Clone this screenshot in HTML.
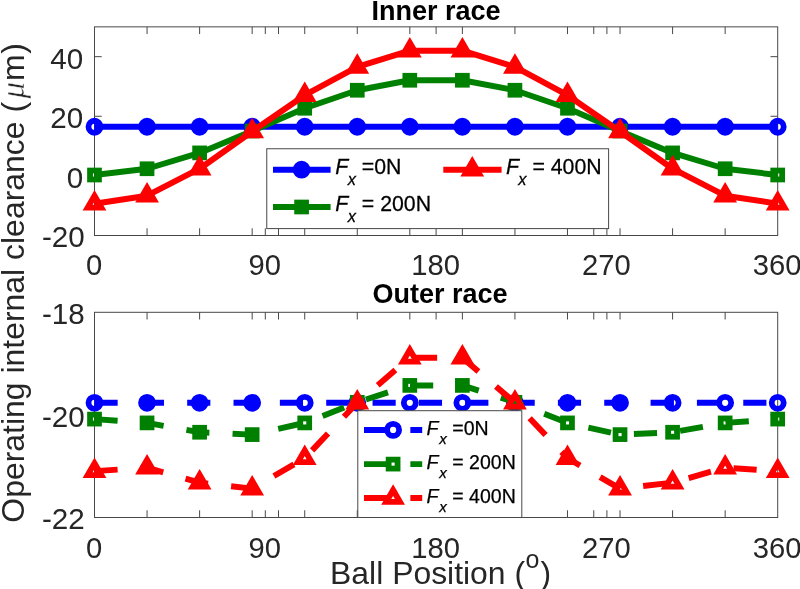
<!DOCTYPE html>
<html><head><meta charset="utf-8"><title>Operating internal clearance</title>
<style>html,body{margin:0;padding:0;background:#fff}svg{display:block}</style></head>
<body>
<svg width="800" height="589" viewBox="0 0 800 589" font-family='"Liberation Sans", sans-serif' fill="#262626">
<rect width="800" height="589" fill="#fff"/>
<rect x="94.5" y="26.85" width="683.2" height="208.65" fill="#fff" stroke="#484848" stroke-width="1"/>
<path d="M147.05 235.5v-7.2M147.05 26.85v7.2M199.61 235.5v-7.2M199.61 26.85v7.2M252.16 235.5v-7.2M252.16 26.85v7.2M265.3 235.5v-7.2M265.3 26.85v7.2M278.5 235.5v-7.2M278.5 26.85v7.2M304.72 235.5v-7.2M304.72 26.85v7.2M357.27 235.5v-7.2M357.27 26.85v7.2M409.82 235.5v-7.2M409.82 26.85v7.2M436.1 235.5v-7.2M436.1 26.85v7.2M462.38 235.5v-7.2M462.38 26.85v7.2M514.93 235.5v-7.2M514.93 26.85v7.2M567.48 235.5v-7.2M567.48 26.85v7.2M593.75 235.5v-7.2M593.75 26.85v7.2M606.9 235.5v-7.2M606.9 26.85v7.2M620.04 235.5v-7.2M620.04 26.85v7.2M672.59 235.5v-7.2M672.59 26.85v7.2M725.15 235.5v-7.2M725.15 26.85v7.2M94.5 56.66h7.2M777.7 56.66h-7.2M94.5 116.27h7.2M777.7 116.27h-7.2M94.5 175.89h7.2M777.7 175.89h-7.2" stroke="#484848" stroke-width="1" fill="none"/>
<text x="83.2" y="68.66" text-anchor="end" font-size="29.6">40</text>
<text x="83.2" y="128.27" text-anchor="end" font-size="29.6">20</text>
<text x="83.2" y="187.89" text-anchor="end" font-size="29.6">0</text>
<text x="94.00" y="274.50" text-anchor="middle" font-size="29.2">0</text>
<text x="264.80" y="274.50" text-anchor="middle" font-size="29.2">90</text>
<text x="435.60" y="274.50" text-anchor="middle" font-size="29.2">180</text>
<text x="606.40" y="274.50" text-anchor="middle" font-size="29.2">270</text>
<text x="777.20" y="274.50" text-anchor="middle" font-size="29.2">360</text>
<text x="84.8" y="246.50" text-anchor="end" font-size="29.6">-20</text>
<polyline points="94.50,126.75 147.05,126.75 199.61,126.75 252.16,126.75 304.72,126.75 357.27,126.75 409.82,126.75 462.38,126.75 514.93,126.75 567.48,126.75 620.04,126.75 672.59,126.75 725.15,126.75 777.70,126.75" fill="none" stroke="#0000ff" stroke-width="5.95" stroke-linejoin="round"/>
<clipPath id="c1"><circle cx="94.50" cy="126.75" r="6.0"/><circle cx="147.05" cy="126.75" r="6.0"/><circle cx="199.61" cy="126.75" r="6.0"/><circle cx="252.16" cy="126.75" r="6.0"/><circle cx="304.72" cy="126.75" r="6.0"/><circle cx="357.27" cy="126.75" r="6.0"/><circle cx="409.82" cy="126.75" r="6.0"/><circle cx="462.38" cy="126.75" r="6.0"/><circle cx="514.93" cy="126.75" r="6.0"/><circle cx="567.48" cy="126.75" r="6.0"/><circle cx="620.04" cy="126.75" r="6.0"/><circle cx="672.59" cy="126.75" r="6.0"/><circle cx="725.15" cy="126.75" r="6.0"/><circle cx="777.70" cy="126.75" r="6.0"/></clipPath>
<polyline points="94.50,126.75 147.05,126.75 199.61,126.75 252.16,126.75 304.72,126.75 357.27,126.75 409.82,126.75 462.38,126.75 514.93,126.75 567.48,126.75 620.04,126.75 672.59,126.75 725.15,126.75 777.70,126.75" fill="none" stroke="#0000ff" stroke-width="7.550000000000001" stroke-linejoin="round" clip-path="url(#c1)"/>
<circle cx="94.50" cy="126.75" r="6.0" fill="none" stroke="#0000ff" stroke-width="5.8"/>
<circle cx="147.05" cy="126.75" r="6.0" fill="none" stroke="#0000ff" stroke-width="5.8"/>
<circle cx="199.61" cy="126.75" r="6.0" fill="none" stroke="#0000ff" stroke-width="5.8"/>
<circle cx="252.16" cy="126.75" r="6.0" fill="none" stroke="#0000ff" stroke-width="5.8"/>
<circle cx="304.72" cy="126.75" r="6.0" fill="none" stroke="#0000ff" stroke-width="5.8"/>
<circle cx="357.27" cy="126.75" r="6.0" fill="none" stroke="#0000ff" stroke-width="5.8"/>
<circle cx="409.82" cy="126.75" r="6.0" fill="none" stroke="#0000ff" stroke-width="5.8"/>
<circle cx="462.38" cy="126.75" r="6.0" fill="none" stroke="#0000ff" stroke-width="5.8"/>
<circle cx="514.93" cy="126.75" r="6.0" fill="none" stroke="#0000ff" stroke-width="5.8"/>
<circle cx="567.48" cy="126.75" r="6.0" fill="none" stroke="#0000ff" stroke-width="5.8"/>
<circle cx="620.04" cy="126.75" r="6.0" fill="none" stroke="#0000ff" stroke-width="5.8"/>
<circle cx="672.59" cy="126.75" r="6.0" fill="none" stroke="#0000ff" stroke-width="5.8"/>
<circle cx="725.15" cy="126.75" r="6.0" fill="none" stroke="#0000ff" stroke-width="5.8"/>
<circle cx="777.70" cy="126.75" r="6.0" fill="none" stroke="#0000ff" stroke-width="5.8"/>
<polyline points="94.50,175.00 147.05,168.75 199.61,152.90 252.16,131.00 304.72,108.25 357.27,90.25 409.82,80.25 462.38,80.25 514.93,90.25 567.48,108.25 620.04,131.00 672.59,152.90 725.15,168.75 777.70,175.00" fill="none" stroke="#008000" stroke-width="5.95" stroke-linejoin="round"/>
<clipPath id="c2"><rect x="90.05" y="170.55" width="8.9" height="8.9"/><rect x="142.60" y="164.30" width="8.9" height="8.9"/><rect x="195.16" y="148.45" width="8.9" height="8.9"/><rect x="247.71" y="126.55" width="8.9" height="8.9"/><rect x="300.27" y="103.80" width="8.9" height="8.9"/><rect x="352.82" y="85.80" width="8.9" height="8.9"/><rect x="405.37" y="75.80" width="8.9" height="8.9"/><rect x="457.93" y="75.80" width="8.9" height="8.9"/><rect x="510.48" y="85.80" width="8.9" height="8.9"/><rect x="563.03" y="103.80" width="8.9" height="8.9"/><rect x="615.59" y="126.55" width="8.9" height="8.9"/><rect x="668.14" y="148.45" width="8.9" height="8.9"/><rect x="720.70" y="164.30" width="8.9" height="8.9"/><rect x="773.25" y="170.55" width="8.9" height="8.9"/></clipPath>
<polyline points="94.50,175.00 147.05,168.75 199.61,152.90 252.16,131.00 304.72,108.25 357.27,90.25 409.82,80.25 462.38,80.25 514.93,90.25 567.48,108.25 620.04,131.00 672.59,152.90 725.15,168.75 777.70,175.00" fill="none" stroke="#008000" stroke-width="7.550000000000001" stroke-linejoin="round" clip-path="url(#c2)"/>
<rect x="90.05" y="170.55" width="8.9" height="8.9" fill="none" stroke="#008000" stroke-width="5.8" stroke-linejoin="miter"/>
<rect x="142.60" y="164.30" width="8.9" height="8.9" fill="none" stroke="#008000" stroke-width="5.8" stroke-linejoin="miter"/>
<rect x="195.16" y="148.45" width="8.9" height="8.9" fill="none" stroke="#008000" stroke-width="5.8" stroke-linejoin="miter"/>
<rect x="247.71" y="126.55" width="8.9" height="8.9" fill="none" stroke="#008000" stroke-width="5.8" stroke-linejoin="miter"/>
<rect x="300.27" y="103.80" width="8.9" height="8.9" fill="none" stroke="#008000" stroke-width="5.8" stroke-linejoin="miter"/>
<rect x="352.82" y="85.80" width="8.9" height="8.9" fill="none" stroke="#008000" stroke-width="5.8" stroke-linejoin="miter"/>
<rect x="405.37" y="75.80" width="8.9" height="8.9" fill="none" stroke="#008000" stroke-width="5.8" stroke-linejoin="miter"/>
<rect x="457.93" y="75.80" width="8.9" height="8.9" fill="none" stroke="#008000" stroke-width="5.8" stroke-linejoin="miter"/>
<rect x="510.48" y="85.80" width="8.9" height="8.9" fill="none" stroke="#008000" stroke-width="5.8" stroke-linejoin="miter"/>
<rect x="563.03" y="103.80" width="8.9" height="8.9" fill="none" stroke="#008000" stroke-width="5.8" stroke-linejoin="miter"/>
<rect x="615.59" y="126.55" width="8.9" height="8.9" fill="none" stroke="#008000" stroke-width="5.8" stroke-linejoin="miter"/>
<rect x="668.14" y="148.45" width="8.9" height="8.9" fill="none" stroke="#008000" stroke-width="5.8" stroke-linejoin="miter"/>
<rect x="720.70" y="164.30" width="8.9" height="8.9" fill="none" stroke="#008000" stroke-width="5.8" stroke-linejoin="miter"/>
<rect x="773.25" y="170.55" width="8.9" height="8.9" fill="none" stroke="#008000" stroke-width="5.8" stroke-linejoin="miter"/>
<polyline points="94.50,203.70 147.05,195.70 199.61,168.70 252.16,131.50 304.72,95.20 357.27,66.95 409.82,50.70 462.38,50.70 514.93,66.95 567.48,95.20 620.04,131.50 672.59,168.70 725.15,195.70 777.70,203.70" fill="none" stroke="#ff0000" stroke-width="5.95" stroke-linejoin="round"/>
<clipPath id="c3"><path d="M94.50 195.77L101.37 207.66L87.63 207.66Z"/><path d="M147.05 187.77L153.92 199.66L140.19 199.66Z"/><path d="M199.61 160.77L206.48 172.66L192.74 172.66Z"/><path d="M252.16 123.57L259.03 135.47L245.29 135.47Z"/><path d="M304.72 87.27L311.58 99.17L297.85 99.17Z"/><path d="M357.27 59.02L364.14 70.92L350.40 70.92Z"/><path d="M409.82 42.77L416.69 54.67L402.96 54.67Z"/><path d="M462.38 42.77L469.24 54.67L455.51 54.67Z"/><path d="M514.93 59.02L521.80 70.92L508.06 70.92Z"/><path d="M567.48 87.27L574.35 99.17L560.62 99.17Z"/><path d="M620.04 123.57L626.91 135.47L613.17 135.47Z"/><path d="M672.59 160.77L679.46 172.66L665.72 172.66Z"/><path d="M725.15 187.77L732.01 199.66L718.28 199.66Z"/><path d="M777.70 195.77L784.57 207.66L770.83 207.66Z"/></clipPath>
<polyline points="94.50,203.70 147.05,195.70 199.61,168.70 252.16,131.50 304.72,95.20 357.27,66.95 409.82,50.70 462.38,50.70 514.93,66.95 567.48,95.20 620.04,131.50 672.59,168.70 725.15,195.70 777.70,203.70" fill="none" stroke="#ff0000" stroke-width="7.550000000000001" stroke-linejoin="round" clip-path="url(#c3)"/>
<path d="M94.50 195.77L101.37 207.66L87.63 207.66Z" fill="none" stroke="#ff0000" stroke-width="5.8" stroke-linejoin="miter" stroke-miterlimit="10"/>
<path d="M147.05 187.77L153.92 199.66L140.19 199.66Z" fill="none" stroke="#ff0000" stroke-width="5.8" stroke-linejoin="miter" stroke-miterlimit="10"/>
<path d="M199.61 160.77L206.48 172.66L192.74 172.66Z" fill="none" stroke="#ff0000" stroke-width="5.8" stroke-linejoin="miter" stroke-miterlimit="10"/>
<path d="M252.16 123.57L259.03 135.47L245.29 135.47Z" fill="none" stroke="#ff0000" stroke-width="5.8" stroke-linejoin="miter" stroke-miterlimit="10"/>
<path d="M304.72 87.27L311.58 99.17L297.85 99.17Z" fill="none" stroke="#ff0000" stroke-width="5.8" stroke-linejoin="miter" stroke-miterlimit="10"/>
<path d="M357.27 59.02L364.14 70.92L350.40 70.92Z" fill="none" stroke="#ff0000" stroke-width="5.8" stroke-linejoin="miter" stroke-miterlimit="10"/>
<path d="M409.82 42.77L416.69 54.67L402.96 54.67Z" fill="none" stroke="#ff0000" stroke-width="5.8" stroke-linejoin="miter" stroke-miterlimit="10"/>
<path d="M462.38 42.77L469.24 54.67L455.51 54.67Z" fill="none" stroke="#ff0000" stroke-width="5.8" stroke-linejoin="miter" stroke-miterlimit="10"/>
<path d="M514.93 59.02L521.80 70.92L508.06 70.92Z" fill="none" stroke="#ff0000" stroke-width="5.8" stroke-linejoin="miter" stroke-miterlimit="10"/>
<path d="M567.48 87.27L574.35 99.17L560.62 99.17Z" fill="none" stroke="#ff0000" stroke-width="5.8" stroke-linejoin="miter" stroke-miterlimit="10"/>
<path d="M620.04 123.57L626.91 135.47L613.17 135.47Z" fill="none" stroke="#ff0000" stroke-width="5.8" stroke-linejoin="miter" stroke-miterlimit="10"/>
<path d="M672.59 160.77L679.46 172.66L665.72 172.66Z" fill="none" stroke="#ff0000" stroke-width="5.8" stroke-linejoin="miter" stroke-miterlimit="10"/>
<path d="M725.15 187.77L732.01 199.66L718.28 199.66Z" fill="none" stroke="#ff0000" stroke-width="5.8" stroke-linejoin="miter" stroke-miterlimit="10"/>
<path d="M777.70 195.77L784.57 207.66L770.83 207.66Z" fill="none" stroke="#ff0000" stroke-width="5.8" stroke-linejoin="miter" stroke-miterlimit="10"/>
<rect x="266.75" y="148.75" width="341.85" height="79.85" fill="#fff" stroke="#484848" stroke-width="1"/>
<path d="M273.0 169.7h57.6" stroke="#0000ff" stroke-width="5.95" fill="none"/>
<circle cx="301.60" cy="169.70" r="6.0" fill="#0000ff" stroke="#0000ff" stroke-width="5.8"/>
<text transform="translate(0 173.70) scale(1 1.045)" font-size="21.3" fill="#000" stroke="#000" stroke-width="0.25"><tspan x="335.3" font-style="italic">F</tspan><tspan x="347.70" font-style="italic" font-size="16.40" dy="10.91">x</tspan><tspan x="361.80" dy="-10.91">=0N</tspan></text>
<path d="M273.0 207.0h57.6" stroke="#008000" stroke-width="5.95" fill="none"/>
<rect x="297.15" y="202.55" width="8.9" height="8.9" fill="none" stroke="#008000" stroke-width="5.8" stroke-linejoin="miter"/>
<text transform="translate(0 211.00) scale(1 1.045)" font-size="21.3" fill="#000" stroke="#000" stroke-width="0.25"><tspan x="335.3" font-style="italic">F</tspan><tspan x="347.70" font-style="italic" font-size="16.40" dy="10.91">x</tspan><tspan x="361.80" dy="-10.91">= 200N</tspan></text>
<path d="M443.3 169.7h58.3" stroke="#ff0000" stroke-width="5.95" fill="none"/>
<path d="M472.25 161.77L479.12 173.66L465.38 173.66Z" fill="none" stroke="#ff0000" stroke-width="5.8" stroke-linejoin="miter" stroke-miterlimit="10"/>
<text transform="translate(0 173.70) scale(1 1.045)" font-size="21.3" fill="#000" stroke="#000" stroke-width="0.25"><tspan x="505.9" font-style="italic">F</tspan><tspan x="518.30" font-style="italic" font-size="16.40" dy="10.91">x</tspan><tspan x="532.40" dy="-10.91">= 400N</tspan></text>
<rect x="94.5" y="312.3" width="683.2" height="205.2" fill="#fff" stroke="#484848" stroke-width="1"/>
<path d="M147.05 517.5v-7.2M147.05 312.3v7.2M199.61 517.5v-7.2M199.61 312.3v7.2M252.16 517.5v-7.2M252.16 312.3v7.2M265.3 517.5v-7.2M265.3 312.3v7.2M278.5 517.5v-7.2M278.5 312.3v7.2M304.72 517.5v-7.2M304.72 312.3v7.2M357.27 517.5v-7.2M357.27 312.3v7.2M409.82 517.5v-7.2M409.82 312.3v7.2M436.1 517.5v-7.2M436.1 312.3v7.2M462.38 517.5v-7.2M462.38 312.3v7.2M514.93 517.5v-7.2M514.93 312.3v7.2M567.48 517.5v-7.2M567.48 312.3v7.2M593.75 517.5v-7.2M593.75 312.3v7.2M606.9 517.5v-7.2M606.9 312.3v7.2M620.04 517.5v-7.2M620.04 312.3v7.2M672.59 517.5v-7.2M672.59 312.3v7.2M725.15 517.5v-7.2M725.15 312.3v7.2M94.5 414.90h7.2M777.7 414.90h-7.2" stroke="#484848" stroke-width="1" fill="none"/>
<text x="84.8" y="426.90" text-anchor="end" font-size="29.6">-20</text>
<text x="94.00" y="557.80" text-anchor="middle" font-size="29.2">0</text>
<text x="264.80" y="557.80" text-anchor="middle" font-size="29.2">90</text>
<text x="435.60" y="557.80" text-anchor="middle" font-size="29.2">180</text>
<text x="606.40" y="557.80" text-anchor="middle" font-size="29.2">270</text>
<text x="777.20" y="557.80" text-anchor="middle" font-size="29.2">360</text>
<text x="84.8" y="324.00" text-anchor="end" font-size="29.6">-18</text>
<text x="84.8" y="528.90" text-anchor="end" font-size="29.6">-22</text>
<polyline points="94.50,402.80 147.05,402.80 199.61,402.80 252.16,402.80 304.72,402.80 357.27,402.80 409.82,402.80 462.38,402.80 514.93,402.80 567.48,402.80 620.04,402.80 672.59,402.80 725.15,402.80 777.70,402.80" fill="none" stroke="#0000ff" stroke-width="5.95" stroke-linejoin="round" stroke-dasharray="23.17 23.17"/>
<clipPath id="c4"><circle cx="94.50" cy="402.80" r="6.0"/><circle cx="147.05" cy="402.80" r="6.0"/><circle cx="199.61" cy="402.80" r="6.0"/><circle cx="252.16" cy="402.80" r="6.0"/><circle cx="304.72" cy="402.80" r="6.0"/><circle cx="357.27" cy="402.80" r="6.0"/><circle cx="409.82" cy="402.80" r="6.0"/><circle cx="462.38" cy="402.80" r="6.0"/><circle cx="514.93" cy="402.80" r="6.0"/><circle cx="567.48" cy="402.80" r="6.0"/><circle cx="620.04" cy="402.80" r="6.0"/><circle cx="672.59" cy="402.80" r="6.0"/><circle cx="725.15" cy="402.80" r="6.0"/><circle cx="777.70" cy="402.80" r="6.0"/></clipPath>
<polyline points="94.50,402.80 147.05,402.80 199.61,402.80 252.16,402.80 304.72,402.80 357.27,402.80 409.82,402.80 462.38,402.80 514.93,402.80 567.48,402.80 620.04,402.80 672.59,402.80 725.15,402.80 777.70,402.80" fill="none" stroke="#0000ff" stroke-width="7.550000000000001" stroke-linejoin="round" stroke-dasharray="23.17 23.17" clip-path="url(#c4)"/>
<circle cx="94.50" cy="402.80" r="6.0" fill="none" stroke="#0000ff" stroke-width="5.8"/>
<circle cx="147.05" cy="402.80" r="6.0" fill="none" stroke="#0000ff" stroke-width="5.8"/>
<circle cx="199.61" cy="402.80" r="6.0" fill="none" stroke="#0000ff" stroke-width="5.8"/>
<circle cx="252.16" cy="402.80" r="6.0" fill="none" stroke="#0000ff" stroke-width="5.8"/>
<circle cx="304.72" cy="402.80" r="6.0" fill="none" stroke="#0000ff" stroke-width="5.8"/>
<circle cx="357.27" cy="402.80" r="6.0" fill="none" stroke="#0000ff" stroke-width="5.8"/>
<circle cx="409.82" cy="402.80" r="6.0" fill="none" stroke="#0000ff" stroke-width="5.8"/>
<circle cx="462.38" cy="402.80" r="6.0" fill="none" stroke="#0000ff" stroke-width="5.8"/>
<circle cx="514.93" cy="402.80" r="6.0" fill="none" stroke="#0000ff" stroke-width="5.8"/>
<circle cx="567.48" cy="402.80" r="6.0" fill="none" stroke="#0000ff" stroke-width="5.8"/>
<circle cx="620.04" cy="402.80" r="6.0" fill="none" stroke="#0000ff" stroke-width="5.8"/>
<circle cx="672.59" cy="402.80" r="6.0" fill="none" stroke="#0000ff" stroke-width="5.8"/>
<circle cx="725.15" cy="402.80" r="6.0" fill="none" stroke="#0000ff" stroke-width="5.8"/>
<circle cx="777.70" cy="402.80" r="6.0" fill="none" stroke="#0000ff" stroke-width="5.8"/>
<polyline points="94.50,419.10 147.05,422.90 199.61,432.25 252.16,434.60 304.72,422.90 357.27,402.30 409.82,385.40 462.38,385.40 514.93,402.30 567.48,422.90 620.04,434.60 672.59,432.25 725.15,422.90 777.70,419.10" fill="none" stroke="#008000" stroke-width="5.95" stroke-linejoin="round" stroke-dasharray="23.17 23.17"/>
<clipPath id="c5"><rect x="90.05" y="414.65" width="8.9" height="8.9"/><rect x="142.60" y="418.45" width="8.9" height="8.9"/><rect x="195.16" y="427.80" width="8.9" height="8.9"/><rect x="247.71" y="430.15" width="8.9" height="8.9"/><rect x="300.27" y="418.45" width="8.9" height="8.9"/><rect x="352.82" y="397.85" width="8.9" height="8.9"/><rect x="405.37" y="380.95" width="8.9" height="8.9"/><rect x="457.93" y="380.95" width="8.9" height="8.9"/><rect x="510.48" y="397.85" width="8.9" height="8.9"/><rect x="563.03" y="418.45" width="8.9" height="8.9"/><rect x="615.59" y="430.15" width="8.9" height="8.9"/><rect x="668.14" y="427.80" width="8.9" height="8.9"/><rect x="720.70" y="418.45" width="8.9" height="8.9"/><rect x="773.25" y="414.65" width="8.9" height="8.9"/></clipPath>
<polyline points="94.50,419.10 147.05,422.90 199.61,432.25 252.16,434.60 304.72,422.90 357.27,402.30 409.82,385.40 462.38,385.40 514.93,402.30 567.48,422.90 620.04,434.60 672.59,432.25 725.15,422.90 777.70,419.10" fill="none" stroke="#008000" stroke-width="7.550000000000001" stroke-linejoin="round" stroke-dasharray="23.17 23.17" clip-path="url(#c5)"/>
<rect x="90.05" y="414.65" width="8.9" height="8.9" fill="none" stroke="#008000" stroke-width="5.8" stroke-linejoin="miter"/>
<rect x="142.60" y="418.45" width="8.9" height="8.9" fill="none" stroke="#008000" stroke-width="5.8" stroke-linejoin="miter"/>
<rect x="195.16" y="427.80" width="8.9" height="8.9" fill="none" stroke="#008000" stroke-width="5.8" stroke-linejoin="miter"/>
<rect x="247.71" y="430.15" width="8.9" height="8.9" fill="none" stroke="#008000" stroke-width="5.8" stroke-linejoin="miter"/>
<rect x="300.27" y="418.45" width="8.9" height="8.9" fill="none" stroke="#008000" stroke-width="5.8" stroke-linejoin="miter"/>
<rect x="352.82" y="397.85" width="8.9" height="8.9" fill="none" stroke="#008000" stroke-width="5.8" stroke-linejoin="miter"/>
<rect x="405.37" y="380.95" width="8.9" height="8.9" fill="none" stroke="#008000" stroke-width="5.8" stroke-linejoin="miter"/>
<rect x="457.93" y="380.95" width="8.9" height="8.9" fill="none" stroke="#008000" stroke-width="5.8" stroke-linejoin="miter"/>
<rect x="510.48" y="397.85" width="8.9" height="8.9" fill="none" stroke="#008000" stroke-width="5.8" stroke-linejoin="miter"/>
<rect x="563.03" y="418.45" width="8.9" height="8.9" fill="none" stroke="#008000" stroke-width="5.8" stroke-linejoin="miter"/>
<rect x="615.59" y="430.15" width="8.9" height="8.9" fill="none" stroke="#008000" stroke-width="5.8" stroke-linejoin="miter"/>
<rect x="668.14" y="427.80" width="8.9" height="8.9" fill="none" stroke="#008000" stroke-width="5.8" stroke-linejoin="miter"/>
<rect x="720.70" y="418.45" width="8.9" height="8.9" fill="none" stroke="#008000" stroke-width="5.8" stroke-linejoin="miter"/>
<rect x="773.25" y="414.65" width="8.9" height="8.9" fill="none" stroke="#008000" stroke-width="5.8" stroke-linejoin="miter"/>
<polyline points="94.50,471.15 147.05,467.65 199.61,482.65 252.16,488.65 304.72,458.20 357.27,402.70 409.82,357.70 462.38,357.70 514.93,402.70 567.48,458.20 620.04,488.65 672.59,482.65 725.15,467.65 777.70,471.15" fill="none" stroke="#ff0000" stroke-width="5.95" stroke-linejoin="round" stroke-dasharray="23.17 23.17"/>
<clipPath id="c6"><path d="M94.50 463.22L101.37 475.11L87.63 475.11Z"/><path d="M147.05 459.72L153.92 471.61L140.19 471.61Z"/><path d="M199.61 474.72L206.48 486.61L192.74 486.61Z"/><path d="M252.16 480.72L259.03 492.61L245.29 492.61Z"/><path d="M304.72 450.27L311.58 462.16L297.85 462.16Z"/><path d="M357.27 394.77L364.14 406.66L350.40 406.66Z"/><path d="M409.82 349.77L416.69 361.66L402.96 361.66Z"/><path d="M462.38 349.77L469.24 361.66L455.51 361.66Z"/><path d="M514.93 394.77L521.80 406.66L508.06 406.66Z"/><path d="M567.48 450.27L574.35 462.16L560.62 462.16Z"/><path d="M620.04 480.72L626.91 492.61L613.17 492.61Z"/><path d="M672.59 474.72L679.46 486.61L665.72 486.61Z"/><path d="M725.15 459.72L732.01 471.61L718.28 471.61Z"/><path d="M777.70 463.22L784.57 475.11L770.83 475.11Z"/></clipPath>
<polyline points="94.50,471.15 147.05,467.65 199.61,482.65 252.16,488.65 304.72,458.20 357.27,402.70 409.82,357.70 462.38,357.70 514.93,402.70 567.48,458.20 620.04,488.65 672.59,482.65 725.15,467.65 777.70,471.15" fill="none" stroke="#ff0000" stroke-width="7.550000000000001" stroke-linejoin="round" stroke-dasharray="23.17 23.17" clip-path="url(#c6)"/>
<path d="M94.50 463.22L101.37 475.11L87.63 475.11Z" fill="none" stroke="#ff0000" stroke-width="5.8" stroke-linejoin="miter" stroke-miterlimit="10"/>
<path d="M147.05 459.72L153.92 471.61L140.19 471.61Z" fill="none" stroke="#ff0000" stroke-width="5.8" stroke-linejoin="miter" stroke-miterlimit="10"/>
<path d="M199.61 474.72L206.48 486.61L192.74 486.61Z" fill="none" stroke="#ff0000" stroke-width="5.8" stroke-linejoin="miter" stroke-miterlimit="10"/>
<path d="M252.16 480.72L259.03 492.61L245.29 492.61Z" fill="none" stroke="#ff0000" stroke-width="5.8" stroke-linejoin="miter" stroke-miterlimit="10"/>
<path d="M304.72 450.27L311.58 462.16L297.85 462.16Z" fill="none" stroke="#ff0000" stroke-width="5.8" stroke-linejoin="miter" stroke-miterlimit="10"/>
<path d="M357.27 394.77L364.14 406.66L350.40 406.66Z" fill="none" stroke="#ff0000" stroke-width="5.8" stroke-linejoin="miter" stroke-miterlimit="10"/>
<path d="M409.82 349.77L416.69 361.66L402.96 361.66Z" fill="none" stroke="#ff0000" stroke-width="5.8" stroke-linejoin="miter" stroke-miterlimit="10"/>
<path d="M462.38 349.77L469.24 361.66L455.51 361.66Z" fill="none" stroke="#ff0000" stroke-width="5.8" stroke-linejoin="miter" stroke-miterlimit="10"/>
<path d="M514.93 394.77L521.80 406.66L508.06 406.66Z" fill="none" stroke="#ff0000" stroke-width="5.8" stroke-linejoin="miter" stroke-miterlimit="10"/>
<path d="M567.48 450.27L574.35 462.16L560.62 462.16Z" fill="none" stroke="#ff0000" stroke-width="5.8" stroke-linejoin="miter" stroke-miterlimit="10"/>
<path d="M620.04 480.72L626.91 492.61L613.17 492.61Z" fill="none" stroke="#ff0000" stroke-width="5.8" stroke-linejoin="miter" stroke-miterlimit="10"/>
<path d="M672.59 474.72L679.46 486.61L665.72 486.61Z" fill="none" stroke="#ff0000" stroke-width="5.8" stroke-linejoin="miter" stroke-miterlimit="10"/>
<path d="M725.15 459.72L732.01 471.61L718.28 471.61Z" fill="none" stroke="#ff0000" stroke-width="5.8" stroke-linejoin="miter" stroke-miterlimit="10"/>
<path d="M777.70 463.22L784.57 475.11L770.83 475.11Z" fill="none" stroke="#ff0000" stroke-width="5.8" stroke-linejoin="miter" stroke-miterlimit="10"/>
<rect x="357.8" y="410.7" width="163.99999999999994" height="106.80000000000001" fill="#fff" stroke="#484848" stroke-width="1"/>
<path d="M364 429.9h58.2" stroke="#0000ff" stroke-width="5.95" fill="none" stroke-dasharray="23.17 23.17"/>
<circle cx="393.10" cy="429.90" r="6.0" fill="none" stroke="#0000ff" stroke-width="5.8"/>
<text transform="translate(0 434.50) scale(1 1.0)" font-size="19.5" fill="#000" stroke="#000" stroke-width="0.25"><tspan x="426.6" font-style="italic">F</tspan><tspan x="439.20" font-style="italic" font-size="15.02" dy="9.40">x</tspan><tspan x="452.30" dy="-9.40">=0N</tspan></text>
<path d="M364 464.1h58.2" stroke="#008000" stroke-width="5.95" fill="none" stroke-dasharray="23.17 23.17"/>
<rect x="388.65" y="459.65" width="8.9" height="8.9" fill="none" stroke="#008000" stroke-width="5.8" stroke-linejoin="miter"/>
<text transform="translate(0 468.70) scale(1 1.0)" font-size="19.5" fill="#000" stroke="#000" stroke-width="0.25"><tspan x="426.6" font-style="italic">F</tspan><tspan x="439.20" font-style="italic" font-size="15.02" dy="9.40">x</tspan><tspan x="452.30" dy="-9.40">= 200N</tspan></text>
<path d="M364 498.0h58.2" stroke="#ff0000" stroke-width="5.95" fill="none" stroke-dasharray="23.17 23.17"/>
<path d="M393.10 490.07L399.97 501.96L386.23 501.96Z" fill="none" stroke="#ff0000" stroke-width="5.8" stroke-linejoin="miter" stroke-miterlimit="10"/>
<text transform="translate(0 502.60) scale(1 1.0)" font-size="19.5" fill="#000" stroke="#000" stroke-width="0.25"><tspan x="426.6" font-style="italic">F</tspan><tspan x="439.20" font-style="italic" font-size="15.02" dy="9.40">x</tspan><tspan x="452.30" dy="-9.40">= 400N</tspan></text>
<text transform="translate(436.10 19.5) scale(1 1.05)" text-anchor="middle" font-size="27" font-weight="bold" fill="#000">Inner race</text>
<text transform="translate(440.00 302.5) scale(1 1.05)" text-anchor="middle" font-size="27" font-weight="bold" fill="#000">Outer race</text>
<text x="330.1" y="583.9" font-size="31.9">Ball Position (<tspan font-size="25" dy="-16.0" dx="0.5">o</tspan><tspan dy="16.0" dx="1.0">)</tspan></text>
<g transform="translate(23.9 522.1) rotate(-90)"><text x="-0.6" y="0" font-size="31.95">Operating internal clearance (<tspan font-family='"Liberation Serif", "DejaVu Serif", serif' font-style="italic" font-size="33" dx="3.5" stroke="#fff" stroke-width="0.55">μ</tspan><tspan dx="1">m</tspan><tspan dx="0.6">)</tspan></text></g>
</svg>
</body></html>
